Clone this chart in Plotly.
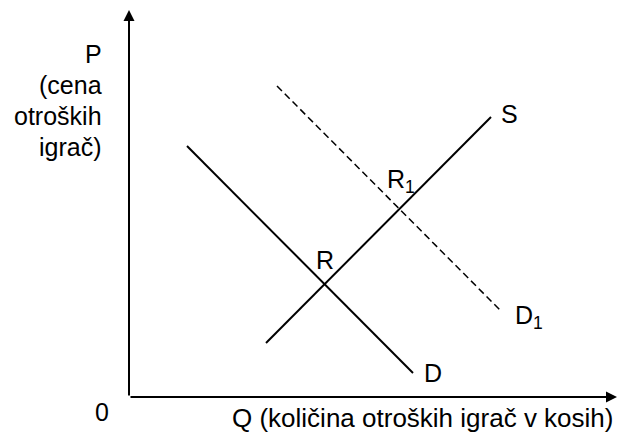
import plotly.graph_objects as go

# krivulje (koordinate glede na izhodišče osi)
d_q = [58, 284]
d_p = [251, 24]
s_q = [137, 362]
s_p = [54, 280]
d1_q = [148, 373]
d1_p = [311, 85]

os_x_konec = 488
os_y_konec = 387

y_oznaka = ["P", "(cena", "otroških", "igrač)"]
x_oznaka = "Q (količina otroških igrač v kosih)"

FONT = dict(family="Liberation Sans, Arial, sans-serif", size=25, color="black")
CRNA = "black"

fig = go.Figure()

fig.add_trace(go.Scatter(x=d_q, y=d_p, mode="lines",
                         line=dict(color=CRNA, width=2), hoverinfo="skip"))
fig.add_trace(go.Scatter(x=s_q, y=s_p, mode="lines",
                         line=dict(color=CRNA, width=2), hoverinfo="skip"))
fig.add_trace(go.Scatter(x=d1_q, y=d1_p, mode="lines",
                         line=dict(color=CRNA, width=1.5, dash="7px,4px"), hoverinfo="skip"))

# osi s puščicami
fig.add_annotation(x=0, y=os_y_konec, ax=0, ay=0, xref="x", yref="y", axref="x", ayref="y",
                   showarrow=True, arrowhead=2, arrowwidth=2, arrowsize=1.1, arrowcolor=CRNA, text="")
fig.add_annotation(x=os_x_konec, y=0, ax=0, ay=0, xref="x", yref="y", axref="x", ayref="y",
                   showarrow=True, arrowhead=2, arrowwidth=2, arrowsize=1.1, arrowcolor=CRNA, text="")

# oznake
for i, t in enumerate(y_oznaka):
    fig.add_annotation(x=-25, y=343 - 31 * i, text=t, showarrow=False,
                       xanchor="right", yanchor="middle", font=FONT)
fig.add_annotation(x=-27, y=-15, text="0", showarrow=False, font=FONT)
fig.add_annotation(x=486, y=-21, text=x_oznaka, showarrow=False,
                   xanchor="right", yanchor="middle", font=dict(FONT, size=26))

fig.add_annotation(x=380, y=283, text="S", showarrow=False, font=FONT)
fig.add_annotation(x=304, y=24, text="D", showarrow=False, font=FONT)
fig.add_annotation(x=384, y=80, text="D<sub>1</sub>", showarrow=False,
                   xanchor="left", font=FONT)
fig.add_annotation(x=196, y=137, text="R", showarrow=False, font=FONT)
fig.add_annotation(x=256, y=216, text="R<sub>1</sub>", showarrow=False,
                   xanchor="left", font=FONT)

fig.update_layout(
    width=617, height=441,
    margin=dict(l=0, r=0, t=0, b=0),
    plot_bgcolor="white", paper_bgcolor="white",
    showlegend=False,
    xaxis=dict(range=[-129, 488], visible=False, fixedrange=True),
    yaxis=dict(range=[-44, 397], visible=False, fixedrange=True),
)

fig.write_html("out.html", config=dict(displayModeBar=False),
               post_script="document.body.style.margin='0';document.body.style.overflow='hidden';")
